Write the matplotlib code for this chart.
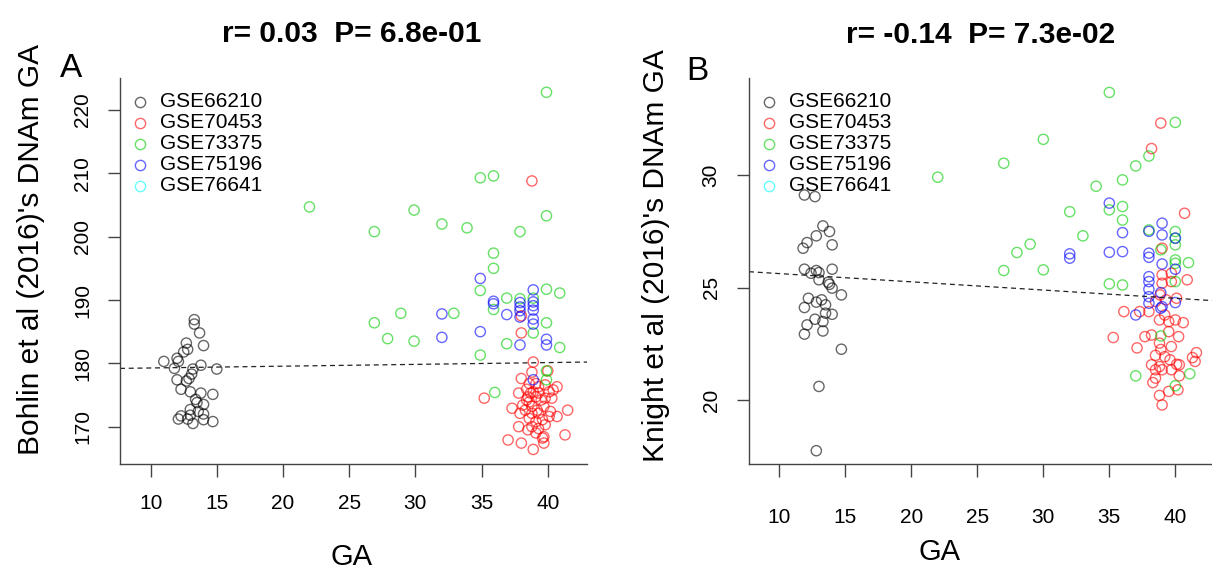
import numpy as np
import matplotlib
matplotlib.use('Agg')
import matplotlib.pyplot as plt

plt.rcParams['font.family'] = ['Liberation Sans', 'DejaVu Sans']

labels = ['GSE66210', 'GSE70453', 'GSE73375', 'GSE75196', 'GSE76641']
colors = ['black', '#ff0000', '#00cd00', '#0000ff', '#00ffff']

titles = ['r= 0.03  P= 6.8e-01', 'r= -0.14  P= 7.3e-02']
ylabels = ["Bohlin et al (2016)'s DNAm GA", "Knight et al (2016)'s DNAm GA"]
letters = ['A', 'B']
xticks = [10, 15, 20, 25, 30, 35, 40]
yticks_a = [170, 180, 190, 200, 210, 220]
yticks_b = [20, 25, 30]

# dashed regression line: intercept, slope
fit_a = [178.98, 0.0284]
fit_b = [25.99, -0.0365]

# panel A (Bohlin)
black_a = [(13.3, 186.9), (13.3, 186.2), (13.7, 184.8), (12.7, 183.2), (14.0, 182.8),
           (12.8, 182.2), (12.5, 181.8), (12.0, 180.8), (12.1, 180.3), (11.0, 180.3),
           (11.8, 179.2), (13.8, 179.7), (13.2, 179.1), (15.0, 179.1), (12.0, 177.4),
           (12.7, 177.2), (12.9, 177.6), (13.1, 178.3), (12.3, 175.9), (13.0, 175.5),
           (13.8, 175.3), (14.7, 175.1), (13.4, 174.3), (13.5, 173.8), (14.0, 173.5),
           (13.0, 172.7), (13.6, 172.4), (13.0, 171.8), (14.0, 172.0), (12.3, 171.7),
           (12.1, 171.2), (12.8, 171.2), (14.0, 171.1), (13.2, 170.5), (14.7, 170.8)]
red_a = [(38.8, 208.8), (38.0, 187.5), (38.0, 184.8), (38.9, 180.2), (38.8, 178.6),
         (38.0, 177.6), (40.0, 178.8), (35.2, 174.5), (37.3, 172.9), (38.4, 175.9),
         (38.7, 175.3), (39.1, 174.7), (39.5, 174.2), (39.8, 176.6), (40.4, 175.8),
         (40.7, 176.3), (38.4, 174.2), (38.8, 173.2), (39.2, 172.6), (39.7, 173.2),
         (40.2, 172.4), (37.9, 172.1), (38.6, 171.3), (39.1, 170.8), (39.6, 171.1),
         (40.1, 171.6), (40.7, 171.6), (41.5, 172.6), (37.8, 170.0), (38.8, 170.0),
         (39.3, 169.7), (39.8, 170.3), (41.3, 168.7), (37.0, 167.9), (38.0, 167.4),
         (38.9, 166.4), (39.6, 168.2), (39.7, 167.4), (39.7, 168.4), (38.5, 174.7),
         (38.1, 173.4), (38.6, 173.9), (38.9, 175.5), (39.3, 176.3), (40.3, 174.5),
         (40.1, 175.5), (38.6, 176.8), (37.8, 175.3), (39.3, 172.1), (38.8, 172.1),
         (38.3, 172.6), (39.1, 169.0), (38.5, 169.5), (39.3, 175.3), (39.8, 174.5),
         (39.1, 176.8)]
green_a = [(39.9, 222.8), (22.0, 204.7), (29.9, 204.2), (26.9, 200.8), (32.0, 202.0),
           (33.9, 201.4), (34.9, 209.3), (35.9, 209.6), (39.9, 203.3), (37.9, 200.8),
           (35.9, 197.4), (35.9, 195.0), (34.9, 191.5), (39.9, 191.7), (40.9, 191.1),
           (36.9, 190.3), (37.9, 190.2), (38.9, 190.3), (35.9, 188.5), (32.9, 187.9),
           (28.9, 187.9), (26.9, 186.4), (27.9, 183.9), (29.9, 183.5), (39.9, 186.4),
           (38.9, 184.8), (36.9, 183.1), (40.9, 182.5), (34.9, 181.3), (39.9, 178.8),
           (39.9, 177.4), (36.0, 175.4)]
blue_a = [(34.9, 193.4), (35.9, 189.8), (35.9, 189.4), (37.9, 189.6), (37.9, 188.9),
          (37.9, 188.3), (37.9, 187.3), (36.9, 187.7), (38.9, 191.6), (38.9, 189.7),
          (38.9, 189.1), (38.9, 188.4), (38.9, 187.0), (38.9, 186.2), (34.9, 185.0),
          (39.9, 183.8), (39.9, 182.9), (32.0, 187.8), (32.0, 184.1), (37.9, 182.9),
          (38.9, 177.4)]
cyan_a = []

# panel B (Knight)
black_b = [(11.9, 29.11), (12.7, 29.04), (13.3, 27.74), (13.8, 27.49), (12.8, 27.30),
           (12.1, 27.0), (14.0, 26.90), (11.8, 26.75), (11.9, 25.82), (12.8, 25.76),
           (12.4, 25.64), (13.0, 25.67), (14.0, 25.82), (13.0, 25.35), (13.7, 25.24),
           (13.8, 25.15), (14.0, 24.98), (14.7, 24.68), (12.2, 24.53), (11.9, 24.12),
           (13.2, 24.46), (12.8, 24.36), (13.5, 24.24), (13.5, 23.87), (14.0, 23.82),
           (12.7, 23.60), (12.1, 23.35), (13.3, 23.50), (11.9, 22.94), (13.3, 23.08),
           (14.7, 22.27), (13.0, 20.62), (12.8, 17.77)]
red_b = [(38.9, 32.3), (38.2, 31.17), (40.7, 28.3), (39.0, 26.75), (39.7, 25.64),
         (40.9, 25.35), (39.0, 25.57), (39.0, 25.2), (39.7, 25.27), (38.85, 24.68),
         (38.5, 24.39), (39.3, 24.46), (40.1, 24.53), (36.1, 23.94), (37.3, 23.94),
         (38.0, 23.94), (39.2, 23.79), (40.0, 23.57), (38.8, 23.57), (39.5, 23.5),
         (40.6, 23.45), (35.3, 22.79), (37.7, 22.83), (38.2, 22.9), (39.5, 23.05),
         (40.25, 22.83), (38.8, 22.54), (39.7, 22.39), (37.1, 22.33), (38.9, 22.26),
         (41.6, 22.12), (41.3, 21.9), (38.5, 22.0), (39.2, 21.94), (39.6, 21.8),
         (40.1, 21.6), (38.2, 21.58), (38.8, 21.5), (38.5, 21.36), (39.0, 21.36),
         (39.7, 21.36), (40.3, 21.58), (41.5, 21.73), (38.5, 20.99), (38.3, 20.79),
         (40.3, 21.09), (39.5, 20.4), (40.2, 20.47), (38.8, 20.22), (39.0, 19.8)]
green_b = [(22.0, 29.9), (27.0, 30.52), (30.0, 31.58), (35.0, 33.66), (38.0, 30.84),
           (37.0, 30.4), (36.0, 29.78), (34.0, 29.5), (35.0, 28.45), (36.0, 28.6),
           (36.0, 28.0), (32.0, 28.37), (33.0, 27.3), (29.0, 26.93), (28.0, 26.56),
           (27.0, 25.76), (30.0, 25.79), (35.0, 25.17), (36.0, 25.12), (38.0, 27.56),
           (37.0, 21.09), (40.0, 32.33), (40.0, 27.49), (40.0, 27.19), (40.0, 26.9),
           (38.9, 26.68), (40.0, 26.23), (40.0, 26.08), (41.0, 26.11), (40.0, 25.27),
           (38.9, 22.86), (41.1, 21.18), (40.0, 20.65)]
blue_b = [(35.0, 28.75), (36.0, 27.44), (32.0, 26.5), (32.0, 26.31), (35.0, 26.57),
          (36.0, 26.6), (38.0, 27.5), (38.0, 26.53), (38.0, 26.35), (38.0, 25.49),
          (38.0, 25.27), (38.0, 24.93), (38.0, 24.31), (37.0, 23.79), (39.0, 27.86),
          (39.0, 27.34), (39.0, 26.05), (39.0, 24.16), (40.0, 27.2), (40.0, 25.82),
          (38.9, 24.78), (40.0, 24.34), (38.9, 24.09), (38.0, 24.6)]
cyan_b = []

W, H = 1212, 575
AXC = '#444444'


def px(x, y):
    return x / W, 1 - y / H


def draw_panel(fig, box, groups, fit, xlim, ylim, yticks, ypad, xpad):
    l, t, r, b = box
    ax = fig.add_axes([l / W, 1 - b / H, (r - l) / W, (b - t) / H])
    for pts, col in zip(groups, colors):
        if not pts:
            continue
        pts = np.array(pts)
        ax.scatter(pts[:, 0], pts[:, 1], s=54, facecolors='none', edgecolors=col,
                   alpha=0.6, linewidths=1.0)
    xs = np.array(xlim)
    ax.plot(xs, fit[0] + fit[1] * xs, color='#222222', lw=0.9, ls=(0, (4, 3)))

    # legend (R style, no frame)
    for i, (lab, col) in enumerate(zip(labels, colors)):
        ly = 1 - (101.7 - t + i * 21) / (b - t)
        ax.plot(20 / (r - l), ly, 'o', transform=ax.transAxes, mfc='none', mec=col,
                alpha=0.6, ms=7.4, mew=1.0)
        ax.text(40 / (r - l), ly, lab, transform=ax.transAxes, va='center',
                fontsize=15, color='black')

    ax.set_xlim(xlim)
    ax.set_ylim(ylim)
    ax.set_xticks(xticks)
    ax.set_yticks(yticks)
    for s in ['top', 'right']:
        ax.spines[s].set_visible(False)
    for s in ['left', 'bottom']:
        ax.spines[s].set_color(AXC)
        ax.spines[s].set_linewidth(1.0)
    ax.tick_params(direction='out', length=9, width=1.0, color=AXC, labelsize=15)
    ax.tick_params(axis='y', labelrotation=90, pad=ypad)
    ax.tick_params(axis='x', pad=xpad)
    plt.setp(ax.get_yticklabels(), va='center')
    return ax


fig = plt.figure(figsize=(W / 100, H / 100), dpi=100)

draw_panel(fig, (120, 78, 587, 464), [black_a, red_a, green_a, blue_a, cyan_a],
           fit_a, (7.69, 42.96), (164.1, 225.06), yticks_a, 11, 12.5)
draw_panel(fig, (749, 78, 1212, 464), [black_b, red_b, green_b, blue_b, cyan_b],
           fit_b, (7.7, 42.78), (17.18, 34.3), yticks_b, 11.5, 23)

# titles, panel letters and axis labels
fig.text(*px(352, 42), titles[0], ha='center', va='baseline', fontsize=21.5, fontweight='bold')
fig.text(*px(981, 43), titles[1], ha='center', va='baseline', fontsize=21.5, fontweight='bold')
fig.text(*px(60, 77), letters[0], ha='left', va='baseline', fontsize=24)
fig.text(*px(686, 80), letters[1], ha='left', va='baseline', fontsize=24)
fig.text(*px(39, 250), ylabels[0], rotation=90, rotation_mode='anchor',
         ha='center', va='baseline', fontsize=21.5)
fig.text(*px(664, 256), ylabels[1], rotation=90, rotation_mode='anchor',
         ha='center', va='baseline', fontsize=21.5)
fig.text(*px(352, 565), 'GA', ha='center', va='baseline', fontsize=21)
fig.text(*px(940, 560), 'GA', ha='center', va='baseline', fontsize=21)

fig.savefig('out.png', dpi=100)
